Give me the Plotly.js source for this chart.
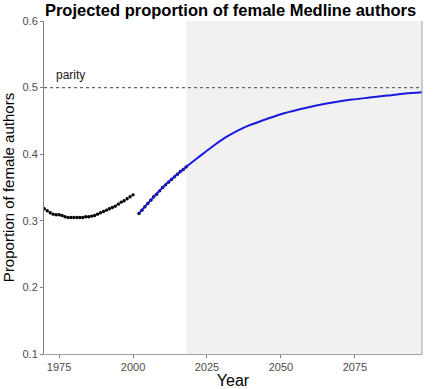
<!DOCTYPE html>
<html>
<head>
<meta charset="utf-8">
<script src="https://cdn.plot.ly/plotly-3.0.1.min.js"></script>
<style>html,body{margin:0;padding:0;background:#fff;}#chart{width:435px;height:389px;}</style>
</head>
<body>
<div id="chart"></div>
<script>
// Observed proportions (black points)
const obsYears = [1970,1971,1972,1973,1974,1975,1976,1977,1978,1979,1980,1981,1982,1983,1984,1985,1986,1987,1988,1989,1990,1991,1992,1993,1994,1995,1996,1997,1998,1999,2000,
  2002,2003,2004,2005,2006,2007,2008,2009,2010,2011,2012,2013,2014,2015,2016,2017,2018];
const obsValues = [0.318,0.315,0.312,0.310,0.309,0.309,0.308,0.306,0.305,0.305,0.305,0.305,0.305,0.305,0.306,0.306,0.307,0.308,0.310,0.312,0.314,0.316,0.318,0.320,0.322,0.325,0.328,0.330,0.333,0.336,0.339,
  0.311,0.316,0.321,0.326,0.331,0.336,0.340,0.345,0.350,0.354,0.358,0.362,0.366,0.370,0.374,0.377,0.381];
// Projection (blue line)
const projYears = [2002,2006,2010,2014,2018,2022,2027,2032,2038,2044,2050,2056,2062,2068,2074,2080,2086,2092,2098];
const projValues = [0.311,0.331,0.350,0.366,0.381,0.395,0.412,0.427,0.441,0.451,0.460,0.467,0.473,0.478,0.482,0.485,0.488,0.491,0.493];
const parity = 0.5;
const projectionStart = 2018;
const xTicks = [1975,2000,2025,2050,2075];
const yTicks = [0.1,0.2,0.3,0.4,0.5,0.6];

const FONT = 'Liberation Sans, Arial, sans-serif';

const traces = [
  {x: obsYears, y: obsValues, type: 'scatter', mode: 'markers',
   marker: {color: '#000000', size: 3.4}, showlegend: false},
  {x: projYears, y: projValues, type: 'scatter', mode: 'lines',
   line: {color: '#1a1adf', width: 2, shape: 'spline', smoothing: 0.8}, showlegend: false}
];

const layout = {
  width: 435, height: 389,
  margin: {l: 44, r: 13, t: 21, b: 35},
  paper_bgcolor: '#ffffff',
  plot_bgcolor: '#ffffff',
  showlegend: false,
  title: {text: '<b>Projected proportion of female Medline authors</b>',
    font: {family: FONT, size: 16.5, color: '#000'},
    x: 0.53, xanchor: 'center', y: 0.975, yanchor: 'middle'},
  xaxis: {range: [1969.9, 2097.7], tickvals: xTicks, ticktext: xTicks.map(String),
    showgrid: false, zeroline: false, showline: true, linecolor: '#a0a0a0', linewidth: 1,
    ticks: 'outside', ticklen: 3, tickcolor: '#7f7f7f',
    tickfont: {family: FONT, size: 11, color: '#4d4d4d'},
    title: {text: 'Year', font: {family: FONT, size: 16, color: '#000'}, standoff: 0}},
  yaxis: {range: [0.1, 0.6], tickvals: yTicks, ticktext: yTicks.map(v => v.toFixed(1)),
    showgrid: false, zeroline: false, showline: true, linecolor: '#7f7f7f', linewidth: 1,
    ticks: 'outside', ticklen: 3, tickcolor: '#7f7f7f',
    tickfont: {family: FONT, size: 11, color: '#4d4d4d'},
    title: {text: 'Proportion of female authors', font: {family: FONT, size: 15, color: '#000'}, standoff: 4}},
  shapes: [
    {type: 'rect', xref: 'x', yref: 'paper', x0: projectionStart, x1: 2097.7, y0: 0, y1: 1,
     fillcolor: '#f1f1f1', line: {width: 0}, layer: 'below'},
    {type: 'line', xref: 'paper', yref: 'y', x0: 0, x1: 1, y0: parity, y1: parity,
     line: {color: '#666666', width: 1.2, dash: 'dot'}},
    {type: 'line', xref: 'paper', yref: 'paper', x0: 1, x1: 1, y0: 0, y1: 1,
     line: {color: '#a0a0a0', width: 1}}
  ],
  annotations: [
    {x: 1979, y: 0.519, xref: 'x', yref: 'y', text: 'parity', showarrow: false,
     font: {family: FONT, size: 12, color: '#1a1a1a'}}
  ]
};

Plotly.newPlot('chart', traces, layout, {displayModeBar: false, staticPlot: true});
</script>
</body>
</html>
